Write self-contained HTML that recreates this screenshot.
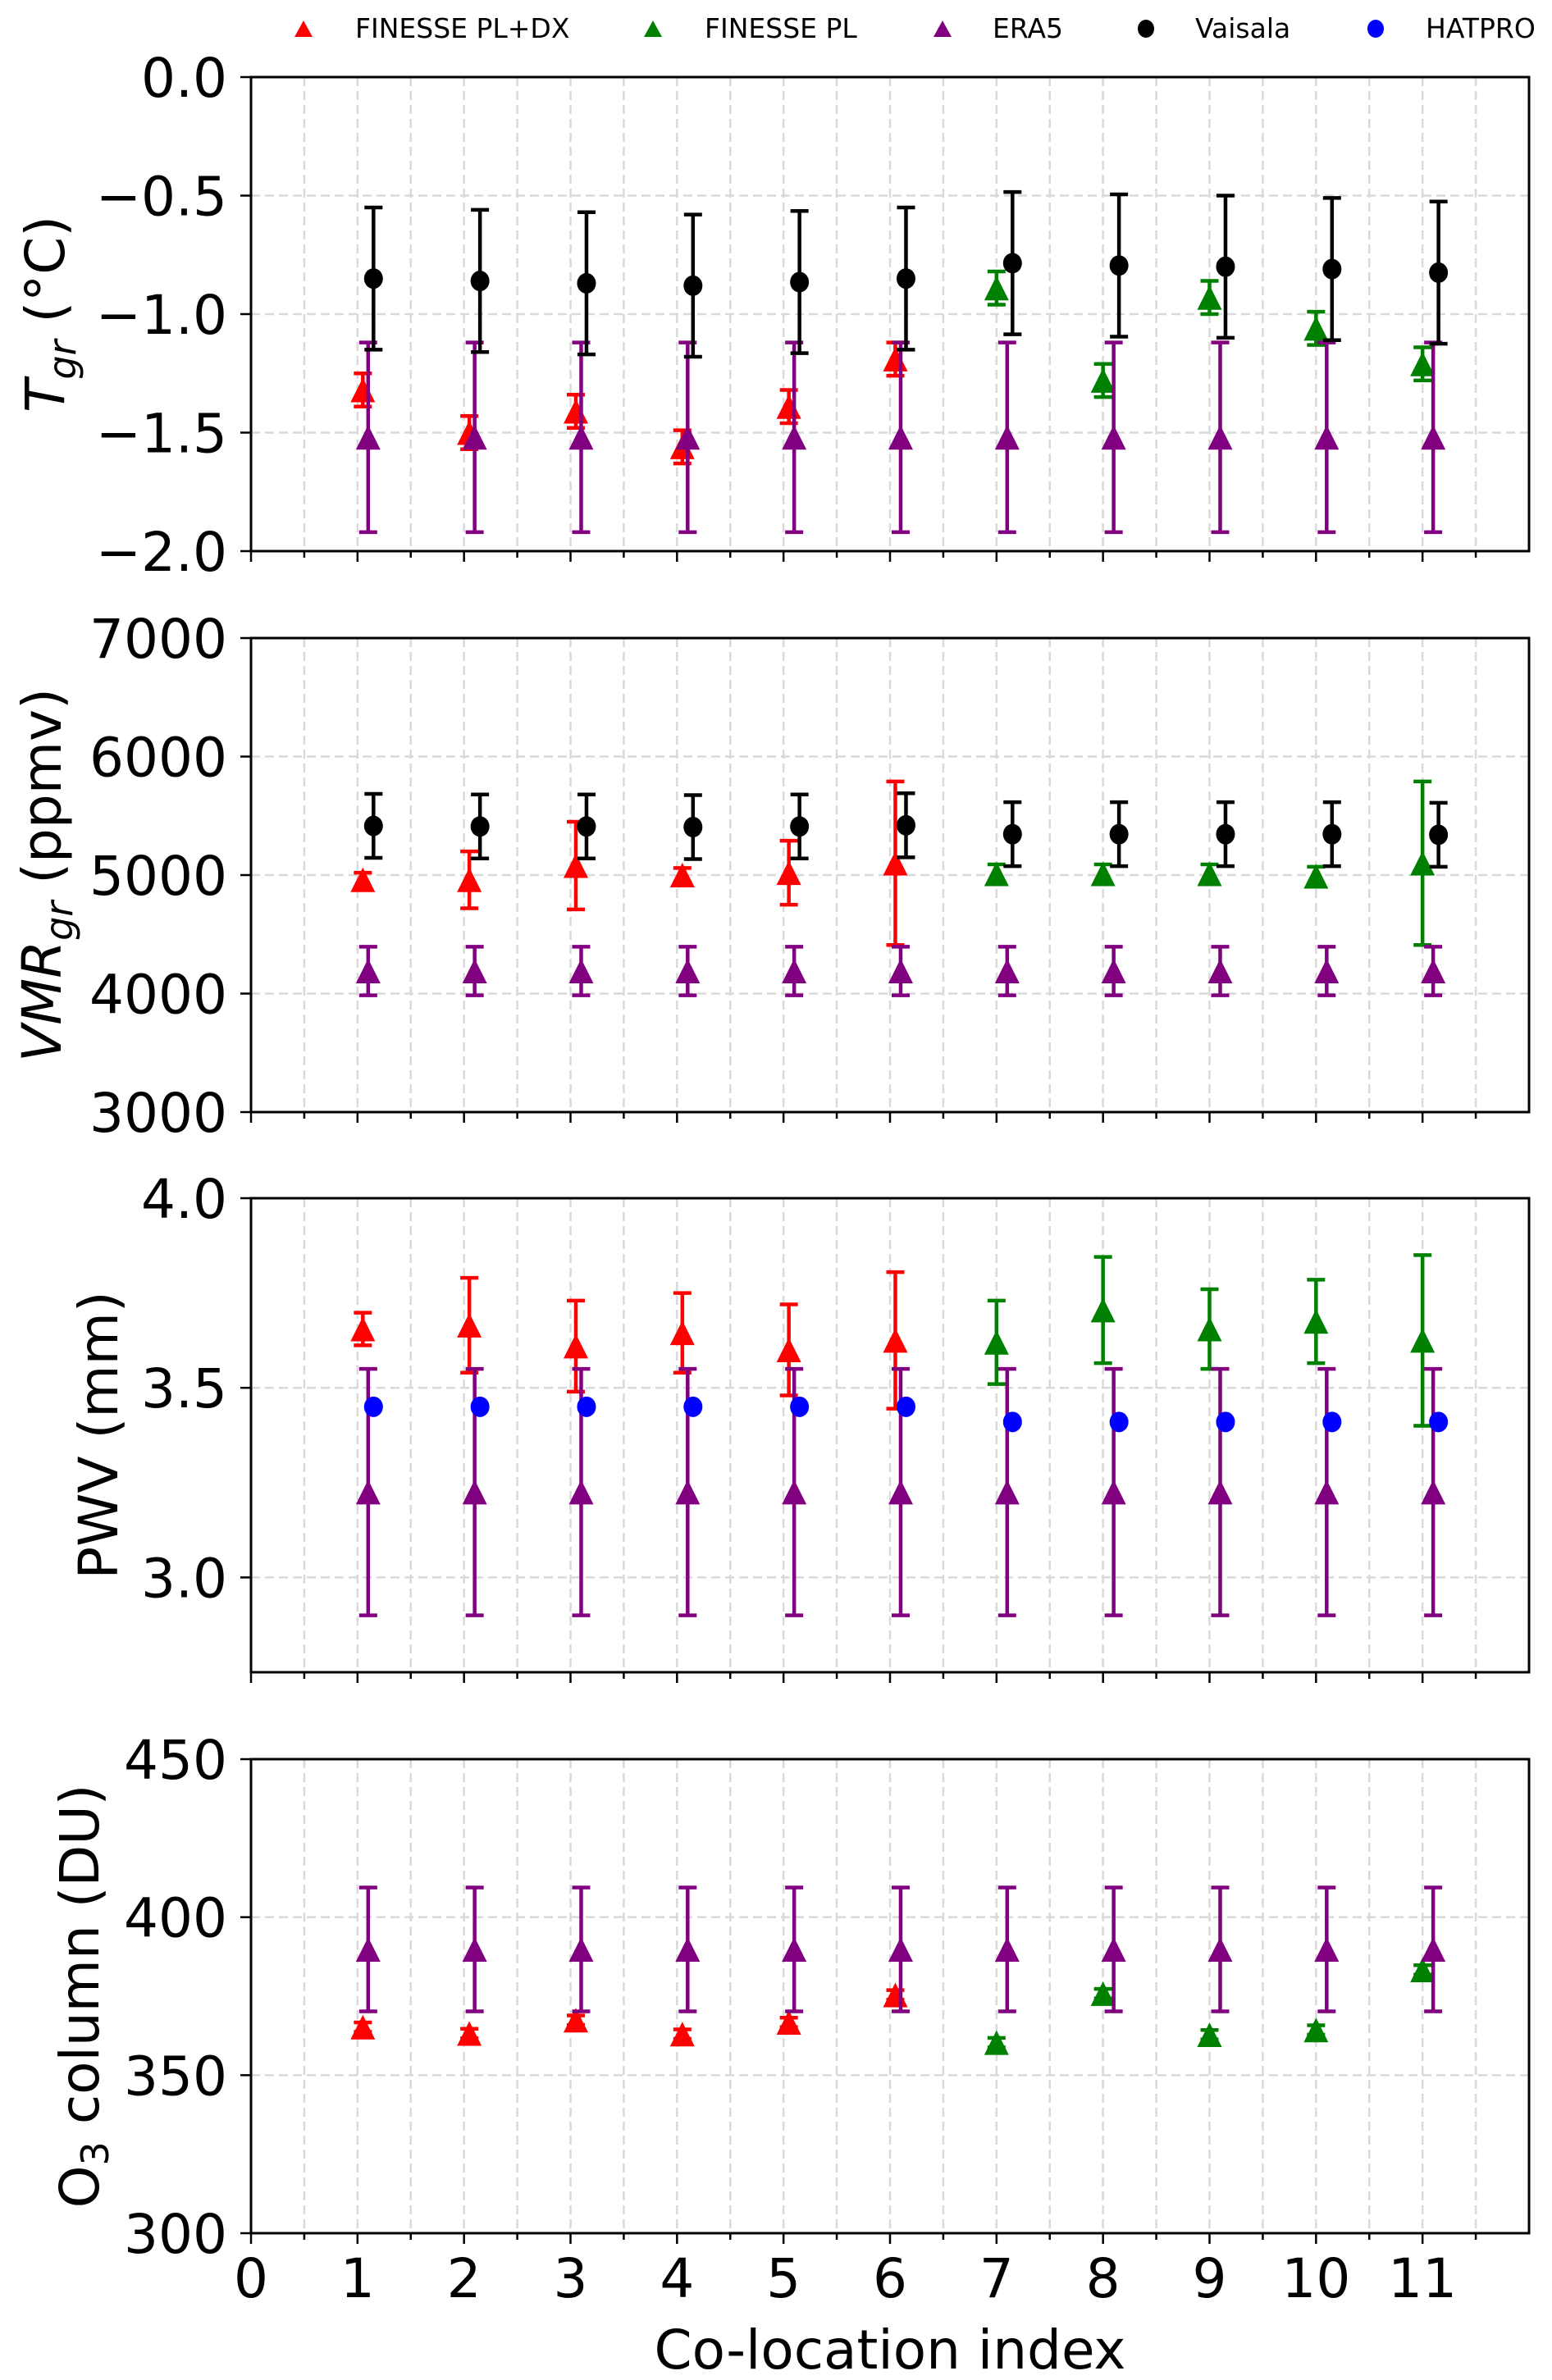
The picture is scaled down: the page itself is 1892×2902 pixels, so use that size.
<!DOCTYPE html>
<html><head><meta charset="utf-8"><style>
html,body{margin:0;padding:0;background:#fff;}
svg{display:block;font-family:"DejaVu Sans","Liberation Sans",sans-serif;}
</style></head><body>
<svg id="chart" width="1892" height="2902" viewBox="0 0 1892 2902" xmlns="http://www.w3.org/2000/svg">
<g id="legend">
  <g><path d="M370,25 L381,45 L359,45 Z" fill="#ff0000"/><text x="433" y="46" font-size="33">FINESSE PL+DX</text></g>
  <g><path d="M796,25 L807,45 L785,45 Z" fill="#008000"/><text x="859" y="46" font-size="33">FINESSE PL</text></g>
  <g><path d="M1149,25 L1160,45 L1138,45 Z" fill="#800080"/><text x="1210" y="46" font-size="33">ERA5</text></g>
  <g><ellipse cx="1397" cy="35" rx="10" ry="11" fill="#000"/><text x="1457" y="46" font-size="33">Vaisala</text></g>
  <g><ellipse cx="1677" cy="35" rx="10" ry="11" fill="#0000ff"/><text x="1738" y="46" font-size="33">HATPRO</text></g>
</g>
</svg>
<script>
// ---- data ----
const xIdx = [1,2,3,4,5,6,7,8,9,10,11];
const redIdx = [1,2,3,4,5,6];
const greenIdx = [7,8,9,10,11];
// Panel 1: T_gr
const tRed = [-1.32,-1.50,-1.41,-1.56,-1.39,-1.19];
const tRedErr = [0.07,0.07,0.07,0.07,0.07,0.07];
const tGreen = [-0.89,-1.28,-0.93,-1.06,-1.21];
const tGreenErr = [0.07,0.07,0.07,0.07,0.07];
const tEra = [-1.52,-1.52,-1.52,-1.52,-1.52,-1.52,-1.52,-1.52,-1.52,-1.52,-1.52];
const tEraErr = [0.40,0.40,0.40,0.40,0.40,0.40,0.40,0.40,0.40,0.40,0.40];
const tVai = [-0.85,-0.86,-0.87,-0.88,-0.865,-0.85,-0.785,-0.795,-0.80,-0.81,-0.825];
const tVaiErr = [0.30,0.30,0.30,0.30,0.30,0.30,0.30,0.30,0.30,0.30,0.30];
// Panel 2: VMR
const vRed = [4960,4960,5080,5000,5020,5100];
const vRedErr = [60,240,370,60,270,690];
const vGreen = [5010,5010,5010,4990,5100];
const vGreenErr = [80,80,80,80,690];
const vEra = [4190,4190,4190,4190,4190,4190,4190,4190,4190,4190,4190];
const vEraErr = [205,205,205,205,205,205,205,205,205,205,205];
const vVai = [5415,5410,5410,5405,5410,5420,5345,5345,5345,5345,5340];
const vVaiErr = [270,270,270,270,270,270,270,270,270,270,270];
// Panel 3: PWV
const pRed = [3.655,3.665,3.61,3.645,3.60,3.625];
const pRedErr = [0.043,0.125,0.12,0.105,0.12,0.18];
const pGreen = [3.62,3.705,3.655,3.675,3.625];
const pGreenErr = [0.11,0.14,0.105,0.11,0.225];
const pEra = [3.225,3.225,3.225,3.225,3.225,3.225,3.225,3.225,3.225,3.225,3.225];
const pEraErr = [0.325,0.325,0.325,0.325,0.325,0.325,0.325,0.325,0.325,0.325,0.325];
const pHat = [3.45,3.45,3.45,3.45,3.45,3.45,3.41,3.41,3.41,3.41,3.41];
// Panel 4: O3
const oRed = [365.2,363.2,367.4,363.0,366.7,375.4];
const oRedErr = [1.5,1.5,1.5,1.5,1.5,1.5];
const oGreen = [360.3,375.8,362.8,364.3,383.3];
const oGreenErr = [1.5,1.5,1.5,1.5,1.5];
const oEra = [389.8,389.8,389.8,389.8,389.8,389.8,389.8,389.8,389.8,389.8,389.8];
const oEraErr = [19.6,19.6,19.6,19.6,19.6,19.6,19.6,19.6,19.6,19.6,19.6];
const xTickLabels = ["0","1","2","3","4","5","6","7","8","9","10","11"];
const tTicks = ["0.0","\u22120.5","\u22121.0","\u22121.5","\u22122.0"];
const vTicks = ["7000","6000","5000","4000","3000"];
const pTicks = ["4.0","3.5","3.0"];
const oTicks = ["450","400","350","300"];

// ---- layout ----
const NS = "http://www.w3.org/2000/svg";
const svg = document.getElementById('chart');
const X0 = 306, X1 = 1864, XMIN = 0, XMAX = 12;
function xs(v){ return X0 + (v - XMIN) / (XMAX - XMIN) * (X1 - X0); }
function mk(tag, attrs, parent){
  const e = document.createElementNS(NS, tag);
  for (const k in attrs) e.setAttribute(k, attrs[k]);
  (parent || svg).appendChild(e);
  return e;
}
const OFF_RED = 0.05, OFF_GREEN = 0.0, OFF_ERA = 0.10, OFF_VAI = 0.15;

function panel(cfg){
  const g = mk('g', {});
  
  
  const T = cfg.top, B = cfg.top + 578;
  const ys = v => T + (cfg.ymax - v) / (cfg.ymax - cfg.ymin) * (B - T);
  const grid = mk('g', {}, g);
  
  
  for (let v = 0.5; v < 12; v += 0.5) {
    mk('line', {x1: xs(v), x2: xs(v), y1: T, y2: B, stroke: '#d9d9d9', 'stroke-width': 2.5, 'stroke-dasharray': '11,6'}, grid);
  }
  cfg.tickVals.forEach(v => {
    if (v === cfg.ymax || v === cfg.ymin) return;
    mk('line', {x1: X0, x2: X1, y1: ys(v), y2: ys(v), stroke: '#d9d9d9', 'stroke-width': 2.5, 'stroke-dasharray': '11,6'}, grid);
  });
  function series(name, xi, off, vals, errs, color, shape){
    const sg = mk('g', {}, g);
    
    
    vals.forEach((v, i) => {
      const cx = xs(xi[i] + off), cy = ys(v);
      if (errs) {
        const y1 = ys(v + errs[i]), y2 = ys(v - errs[i]);
        const eb = mk('path', {d: `M${cx},${y1}L${cx},${y2}M${cx-11},${y1}L${cx+11},${y1}M${cx-11},${y2}L${cx+11},${y2}`, stroke: color, 'stroke-width': 4.5, fill: 'none'}, sg);
        
        
      }
      let m;
      if (shape === 'tri') {
        m = mk('path', {d: `M${cx},${cy-15}L${cx+15},${cy+15}L${cx-15},${cy+15}Z`, fill: color}, sg);
      } else {
        m = mk('ellipse', {cx: cx, cy: cy, rx: 11.5, ry: 12.5, fill: color}, sg);
      }
      
      
    });
  }
  cfg.series.forEach(s => series(s[0], s[1], s[2], s[3], s[4], s[5], s[6]));
  const fr = mk('rect', {x: X0, y: T, width: X1 - X0, height: B - T, fill: 'none', stroke: '#000', 'stroke-width': 3}, g);
  
  
  cfg.tickVals.forEach((v, i) => {
    mk('line', {x1: X0 - 13, x2: X0, y1: ys(v), y2: ys(v), stroke: '#000', 'stroke-width': 2.5}, g);
    const t = mk('text', {x: 277, y: ys(v) + 24, 'font-size': 66, 'text-anchor': 'end'}, g);
    t.textContent = cfg.tickLabels[i];
    
    
  });
  for (let v = 0; v <= 11.5; v += 0.5) {
    const major = Number.isInteger(v);
    mk('line', {x1: xs(v), x2: xs(v), y1: B, y2: B + (major ? 13 : 8), stroke: '#000', 'stroke-width': 2.5}, g);
  }
  const yl = mk('text', {x: 0, y: 0, 'font-size': 66, 'text-anchor': 'middle', transform: `translate(${cfg.labelX},${(T + B) / 2}) rotate(-90)`}, g);
  yl.innerHTML = cfg.label;
  
  
  return {B: B};
}

const cR = '#ff0000', cG = '#008000', cP = '#800080', cK = '#000000', cB = '#0000ff';
panel({name: 'temperature-panel', top: 94, ymin: -2, ymax: 0, tickVals: [0,-0.5,-1,-1.5,-2], tickLabels: tTicks, labelX: 78,
  label: '<tspan font-style="italic">T</tspan><tspan font-style="italic" font-size="46" dy="14">gr</tspan><tspan dy="-14"> (°C)</tspan>',
  series: [['finesse-pl-dx', redIdx, OFF_RED, tRed, tRedErr, cR, 'tri'],
           ['finesse-pl', greenIdx, OFF_GREEN, tGreen, tGreenErr, cG, 'tri'],
           ['era5', xIdx, OFF_ERA, tEra, tEraErr, cP, 'tri'],
           ['vaisala', xIdx, OFF_VAI, tVai, tVaiErr, cK, 'dot']]});
panel({name: 'vmr-panel', top: 778, ymin: 3000, ymax: 7000, tickVals: [7000,6000,5000,4000,3000], tickLabels: vTicks, labelX: 74,
  label: '<tspan font-style="italic">VMR</tspan><tspan font-style="italic" font-size="46" dy="14">gr</tspan><tspan dy="-14"> (ppmv)</tspan>',
  series: [['finesse-pl-dx', redIdx, OFF_RED, vRed, vRedErr, cR, 'tri'],
           ['finesse-pl', greenIdx, OFF_GREEN, vGreen, vGreenErr, cG, 'tri'],
           ['era5', xIdx, OFF_ERA, vEra, vEraErr, cP, 'tri'],
           ['vaisala', xIdx, OFF_VAI, vVai, vVaiErr, cK, 'dot']]});
panel({name: 'pwv-panel', top: 1461, ymin: 2.75, ymax: 4.0, tickVals: [4.0,3.5,3.0], tickLabels: pTicks, labelX: 143,
  label: 'PWV (mm)',
  series: [['finesse-pl-dx', redIdx, OFF_RED, pRed, pRedErr, cR, 'tri'],
           ['finesse-pl', greenIdx, OFF_GREEN, pGreen, pGreenErr, cG, 'tri'],
           ['era5', xIdx, OFF_ERA, pEra, pEraErr, cP, 'tri'],
           ['hatpro', xIdx, OFF_VAI, pHat, null, cB, 'dot']]});
const p4 = panel({name: 'ozone-panel', top: 2145, ymin: 300, ymax: 450, tickVals: [450,400,350,300], tickLabels: oTicks, labelX: 120,
  label: 'O<tspan font-size="46" dy="12">3</tspan><tspan dy="-12"> column (DU)</tspan>',
  series: [['finesse-pl-dx', redIdx, OFF_RED, oRed, oRedErr, cR, 'tri'],
           ['finesse-pl', greenIdx, OFF_GREEN, oGreen, oGreenErr, cG, 'tri'],
           ['era5', xIdx, OFF_ERA, oEra, oEraErr, cP, 'tri']]});

xTickLabels.forEach((lab, i) => {
  const t = mk('text', {x: xs(i), y: p4.B + 78, 'font-size': 66, 'text-anchor': 'middle'});
  t.textContent = lab;
  
  
});
const xl = mk('text', {x: (X0 + X1) / 2, y: 2888, 'font-size': 66, 'text-anchor': 'middle'});
xl.textContent = 'Co-location index';


</script>
</body></html>
